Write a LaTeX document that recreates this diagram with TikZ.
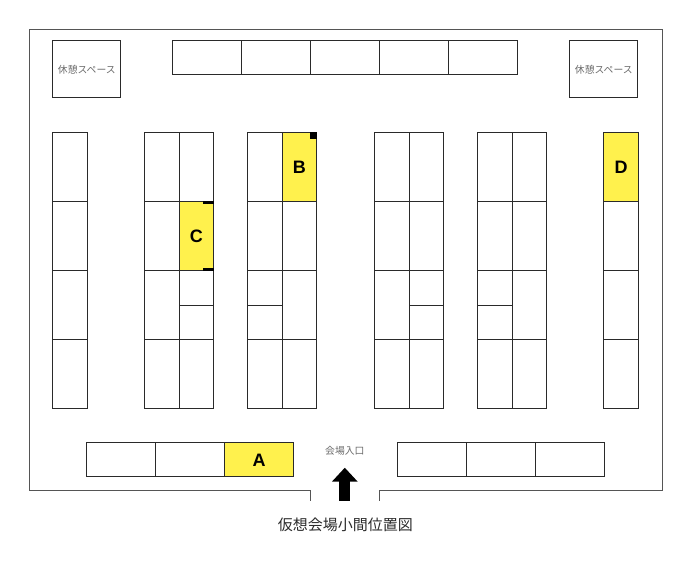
\documentclass[tikz,border=0pt]{standalone}
\usepackage{fontspec}
\newfontfamily\cjk{Noto Sans CJK JP}
\newfontfamily\boothfont{Liberation Sans}
\usepackage{xcolor}
\usetikzlibrary{arrows.meta,positioning}
\definecolor{boothyellow}{HTML}{FFF14D}
\definecolor{linegray}{HTML}{2A2A2A}
\definecolor{wallgray}{HTML}{555555}
\definecolor{textgray}{HTML}{6A6A6A}
\tikzset{%
	booth/.style     = {draw=linegray, rectangle, inner sep=0pt, anchor=north west, minimum width=34.4pt, minimum height=68.85pt}, % Booth
	halfbooth/.style = {booth, minimum height=34.5pt}, % Half booth
	widebooth/.style = {booth, minimum width=68.9pt, minimum height=34pt}, % Wide booth
	picked/.style    = {fill=boothyellow, font=\boothfont\bfseries\fontsize{18}{18}\selectfont},
	rest/.style      = {booth, minimum width=68pt, minimum height=57pt, text=textgray, font=\cjk\fontsize{9.8}{10}\selectfont},
	caption/.style   = {inner sep=0pt, text=textgray, font=\cjk\fontsize{9.8}{10}\selectfont},
	wall/.style      = {draw=wallgray},
	tag/.style       = {fill=black},
}

\begin{document}
\begin{tikzpicture}[x=1pt,y=-1pt,line width=1pt]
	\useasboundingbox (0,0) rectangle (694,566);
	% walls
	\draw[wall] (310.3,500.5) -- (310.3,490) -- (29.5,490) -- (29.5,29.5) -- (662,29.5) -- (662,490) -- (379.3,490) -- (379.3,500.5);
	% rest areas
	\node[rest] (restL) at (52.3,40.3) {休憩スペース};
	\node[rest] (restR) at (569.3,40.3) {休憩スペース};
	% top row
	\foreach \x [count=\i] in {172.3,241.2,310.1,379,447.9}
		\node[widebooth] (top\i) at (\x,40.3) {};
	% island rows
	\foreach \x [count=\i] in {52.3,144.3,178.7,247.3,374.3,408.7,477.3,511.7}
		\node[booth] (rowa\i) at (\x,132.3) {};
	\node[booth, picked] (B) at (281.7,132.3) {B};
	\node[booth, picked] (D) at (603.3,132.3) {D};
	\foreach \x [count=\i] in {52.3,144.3,247.3,281.7,374.3,408.7,477.3,511.7,603.3}
		\node[booth] (rowb\i) at (\x,201.15) {};
	\node[booth, picked] (C) at (178.7,201.15) {C};
	\foreach \x [count=\i] in {52.3,144.3,281.7,374.3,511.7,603.3}
		\node[booth] (rowc\i) at (\x,270) {};
	\foreach \x [count=\i] in {178.7,247.3,408.7,477.3} {
		\node[halfbooth] (halfu\i) at (\x,270) {};
		\node[halfbooth] (halfd\i) at (\x,304.5) {};
	}
	\foreach \x [count=\i] in {52.3,144.3,178.7,247.3,281.7,374.3,408.7,477.3,511.7,603.3}
		\node[booth] (rowd\i) at (\x,338.85) {};
	% corner tags
	\fill[tag] ([xshift=-7pt]B.north east) rectangle ([yshift=-6.7pt]B.north east);
	\fill[tag] ([xshift=-11.5pt]C.north east) rectangle ([yshift=-3pt]C.north east);
	\fill[tag] ([xshift=-11.5pt,yshift=3.3pt]C.south east) rectangle (C.south east);
	% bottom row
	\foreach \x [count=\i] in {86.3,155.2}
		\node[widebooth] (botl\i) at (\x,442.3) {};
	\node[widebooth, picked] (A) at (224.1,442.3) {A};
	\foreach \x [count=\i] in {397,465.9,534.8}
		\node[widebooth] (botr\i) at (\x,442.3) {};
	% entrance
	\node[caption] (gate) at (344.8,450.7) {会場入口};
	\coordinate (gatefoot) at (344.8,500.7);
	\coordinate (gatetip) at (344.8,467.7);
	\draw[line width=11pt, -{Triangle[width=25pt,length=14pt]}] (gatefoot) -- (gatetip);
	\node[inner sep=0pt, text=linegray, font=\cjk\fontsize{15}{15}\selectfont] (title) at (345.3,525) {仮想会場小間位置図};
\end{tikzpicture}
\end{document}
